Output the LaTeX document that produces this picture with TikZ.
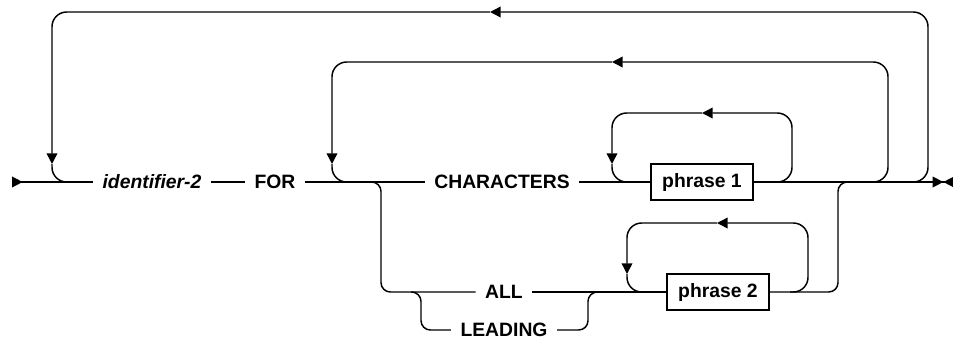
\documentclass[tikz,border=0pt]{standalone}
\usepackage{fontspec}
\setmainfont{Liberation Sans}
\usetikzlibrary{arrows.meta}

\newcommand{\railsize}{\fontsize{14.5}{17}\selectfont\bfseries}

\begin{document}
\begin{tikzpicture}[
  x=0.75pt, y=-0.75pt,
  rail/.style={line width=1.1pt, rounded corners=11pt},
  tight/.style={rail, rounded corners=7pt},
  tip/.style={-{Triangle[length=8pt,width=8pt]}},
  kw/.style={inner xsep=7pt, inner ysep=2pt, font=\railsize},
  var/.style={kw, font=\railsize\itshape},
  phrasebox/.style={draw, line width=1.3pt, inner xsep=7pt,
    minimum width=76pt, minimum height=27pt, font=\railsize}
]
\useasboundingbox (0,0) rectangle (953,340);

% syntax elements
\node[var] (id) at (152,182) {identifier-2};
\node[kw] (for) at (275,182) {FOR};
\node[kw] (chars) at (502,182) {CHARACTERS};
\node[kw] (all) at (504,292) {ALL};
\node[kw] (lead) at (504,330) {LEADING};
\node[phrasebox] (ph1) at (702,182) {phrase 1};
\node[phrasebox] (ph2) at (718,292) {phrase 2};

% main line
\coordinate (start) at (12,182);
\coordinate (end) at (954,182);
\draw[rail, {Triangle[reversed,length=8pt,width=8pt]}-] (start) -- (id);
\draw[rail] (id) -- (for);
\draw[rail] (for) -- (chars);
\draw[rail] (chars) -- (ph1);
\draw[rail, -{Triangle[length=8pt,width=8pt] Triangle[reversed,length=8pt,width=8pt]}] (ph1) -- (end);

% outer repeat
\coordinate (o1) at (910,182);
\coordinate (oTR) at (928,12);
\coordinate (oT) at (490,12);
\coordinate (oL) at (52,164);
\coordinate (o2) at (72,182);
\draw[rail,tip] (o1) -| (oTR) -- (oT);
\draw[rail,tip] (oT) -| (oL);
\draw[rail] (oL) |- (o2);

% repeat of the choice
\coordinate (i1) at (870,182);
\coordinate (iTR) at (888,62);
\coordinate (iT) at (612,62);
\coordinate (iL) at (332,164);
\coordinate (i2) at (352,182);
\draw[rail,tip] (i1) -| (iTR) -- (iT);
\draw[rail,tip] (iT) -| (iL);
\draw[rail] (iL) |- (i2);

% repeat of phrase 1
\coordinate (p1) at (774,182);
\coordinate (pTR) at (792,113);
\coordinate (pT) at (702,113);
\coordinate (pL) at (612,164);
\coordinate (p2) at (632,182);
\draw[rail,tip] (p1) -| (pTR) -- (pT);
\draw[rail,tip] (pT) -| (pL);
\draw[rail] (pL) |- (p2);

% ALL / LEADING branch
\coordinate (a1) at (370,182);
\coordinate (a2) at (381,292);
\coordinate (l1) at (411,292);
\coordinate (l2) at (421,330);
\coordinate (l3) at (588,292);
\coordinate (l4) at (600,292);
\draw[tight] (a1) -| (a2) -- (all);
\draw[tight] (l1) -| (l2) -- (lead);
\draw[tight] (lead) -| (l3) -- (l4);
\draw[rail] (all) -- (ph2);

% repeat of phrase 2
\coordinate (q1) at (790,292);
\coordinate (qTR) at (808,223);
\coordinate (qT) at (717,223);
\coordinate (qL) at (627,274);
\coordinate (q2) at (647,292);
\draw[rail,tip] (q1) -| (qTR) -- (qT);
\draw[rail,tip] (qT) -| (qL);
\draw[rail] (qL) |- (q2);

% back to the main line
\coordinate (r1) at (838,182);
\coordinate (r2) at (854,182);
\draw[tight] (ph2) -| (r1) -- (r2);
\end{tikzpicture}
\end{document}
